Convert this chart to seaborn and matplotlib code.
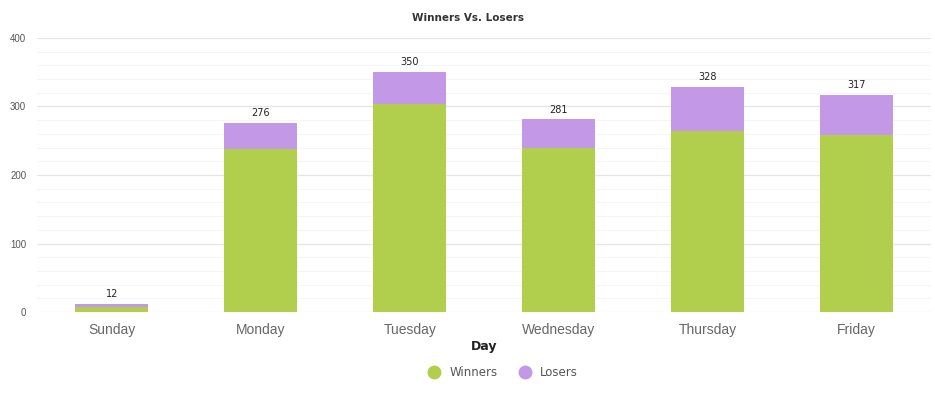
import numpy as np
import pandas as pd
import seaborn as sns
from matplotlib import pyplot as plt
from matplotlib.ticker import MultipleLocator
from matplotlib.lines import Line2D

days = ["Sunday", "Monday", "Tuesday", "Wednesday", "Thursday", "Friday"]
winners = [7, 238, 303, 239, 264, 259]
losers = [5, 38, 47, 42, 64, 58]
totals = [w + l for w, l in zip(winners, losers)]

GREEN = "#b1cf4c"
PURPLE = "#c398e6"

df = pd.DataFrame({"Day": days, "Winners": winners, "Losers": losers, "Total": totals})

sns.set_style("white")
plt.rcParams["font.family"] = ["Liberation Sans", "DejaVu Sans"]

fig = plt.figure(figsize=(9.35, 3.95), dpi=100)
ax = fig.add_axes([0.04, 0.21, 0.956, 0.694])

sns.barplot(data=df, x="Day", y="Total", color=PURPLE, width=0.49,
            saturation=1, linewidth=0, ax=ax, zorder=2)
sns.barplot(data=df, x="Day", y="Winners", color=GREEN, width=0.49,
            saturation=1, linewidth=0, ax=ax, zorder=3)

for i, t in enumerate(totals):
    ax.text(i, t + 7, str(t), ha="center", va="bottom", fontsize=7,
            color="#222222", family="DejaVu Sans")

ax.set_ylim(0, 400)
ax.set_xlim(-0.5, len(days) - 0.5)
ax.yaxis.set_major_locator(MultipleLocator(100))
ax.yaxis.set_minor_locator(MultipleLocator(20))
ax.grid(axis="y", which="major", color="#e6e6e6", lw=0.9, zorder=0)
ax.grid(axis="y", which="minor", color="#f5f5f5", lw=0.8, zorder=0)
ax.set_axisbelow(True)
for s in ax.spines.values():
    s.set_visible(False)
ax.tick_params(axis="both", which="both", length=0)
ax.tick_params(axis="y", labelsize=7, labelcolor="#555555", pad=8)
ax.tick_params(axis="x", labelsize=10, labelcolor="#666666", pad=8)
ax.set_ylabel("")
ax.set_xlabel("Day", fontsize=9, fontweight="bold", color="#222222", labelpad=2,
              family="DejaVu Sans")
fig.text(0.5, 0.955, "Winners Vs. Losers", ha="center", va="center", fontsize=7.5,
         fontweight="bold", color="#333333", family="DejaVu Sans")

handles = [Line2D([], [], marker="o", ls="", markersize=9, color=GREEN),
           Line2D([], [], marker="o", ls="", markersize=9, color=PURPLE)]
fig.legend(handles, ["Winners", "Losers"], loc="center", bbox_to_anchor=(0.535, 0.056),
           ncol=2, frameon=False, handletextpad=0.3, columnspacing=1.3,
           labelcolor="#555555", prop={"family": "DejaVu Sans", "size": 8.5})

plt.savefig("out.png", dpi=100)
plt.close()
